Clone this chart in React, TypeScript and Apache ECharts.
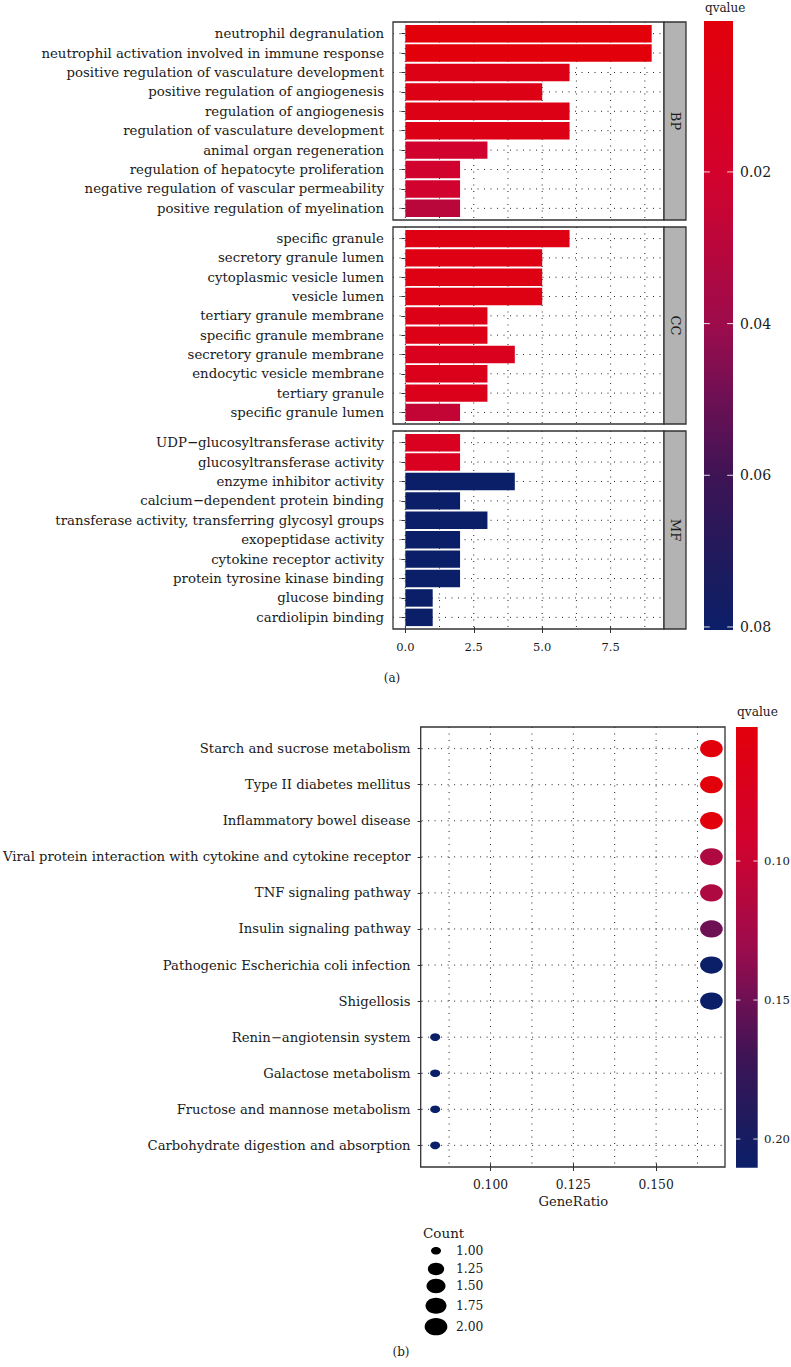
import React, { useEffect, useRef } from "react";
import * as echarts from "echarts";

const FONT = "DejaVu Serif";
const TXT = "#1a1a1a";

// ---------- (a) GO enrichment ----------
const bpTerms = [
  "neutrophil degranulation",
  "neutrophil activation involved in immune response",
  "positive regulation of vasculature development",
  "positive regulation of angiogenesis",
  "regulation of angiogenesis",
  "regulation of vasculature development",
  "animal organ regeneration",
  "regulation of hepatocyte proliferation",
  "negative regulation of vascular permeability",
  "positive regulation of myelination",
];
const bpCounts = [9, 9, 6, 5, 6, 6, 3, 2, 2, 2];
const bpQ = [0.0001, 0.0001, 0.006, 0.006, 0.006, 0.006, 0.021, 0.021, 0.021, 0.03];

const ccTerms = [
  "specific granule",
  "secretory granule lumen",
  "cytoplasmic vesicle lumen",
  "vesicle lumen",
  "tertiary granule membrane",
  "specific granule membrane",
  "secretory granule membrane",
  "endocytic vesicle membrane",
  "tertiary granule",
  "specific granule lumen",
];
const ccCounts = [6, 5, 5, 5, 3, 3, 4, 3, 3, 2];
const ccQ = [0.005, 0.005, 0.005, 0.005, 0.007, 0.007, 0.011, 0.009, 0.009, 0.026];

const mfTerms = [
  "UDP\u2212glucosyltransferase activity",
  "glucosyltransferase activity",
  "enzyme inhibitor activity",
  "calcium\u2212dependent protein binding",
  "transferase activity, transferring glycosyl groups",
  "exopeptidase activity",
  "cytokine receptor activity",
  "protein tyrosine kinase binding",
  "glucose binding",
  "cardiolipin binding",
];
const mfCounts = [2, 2, 4, 2, 3, 2, 2, 2, 1, 1];
const mfQ = [0.012, 0.012, 0.0804, 0.0804, 0.0804, 0.0804, 0.0804, 0.0804, 0.0804, 0.0804];

const ontologies = ["BP", "CC", "MF"];
const goXTicks = [0, 2.5, 5, 7.5];
const goXGrid = [0, 1.25, 2.5, 3.75, 5, 6.25, 7.5, 8.75];
const goQTicks = [0.02, 0.04, 0.06, 0.08];

// ---------- (b) KEGG enrichment ----------
const keggTerms = [
  "Starch and sucrose metabolism",
  "Type II diabetes mellitus",
  "Inflammatory bowel disease",
  "Viral protein interaction with cytokine and cytokine receptor",
  "TNF signaling pathway",
  "Insulin signaling pathway",
  "Pathogenic Escherichia coli infection",
  "Shigellosis",
  "Renin\u2212angiotensin system",
  "Galactose metabolism",
  "Fructose and mannose metabolism",
  "Carbohydrate digestion and absorption",
];
const keggRatio = [0.1667, 0.1667, 0.1667, 0.1667, 0.1667, 0.1667, 0.1667, 0.1667, 0.0833, 0.0833, 0.0833, 0.0833];
const keggCount = [2, 2, 2, 2, 2, 2, 2, 2, 1, 1, 1, 1];
const keggQ = [0.0518, 0.0518, 0.0518, 0.118, 0.118, 0.15, 0.2103, 0.2103, 0.2103, 0.2103, 0.2103, 0.2103];
const keggXTicks = [0.1, 0.125, 0.15];
const keggXGrid = [0.0875, 0.1, 0.1125, 0.125, 0.1375, 0.15, 0.1625];
const keggQTicks = [0.1, 0.15, 0.2];
const countBreaks = [1, 1.25, 1.5, 1.75, 2];

const PALETTE = ["#E2000B", "#DA011C", "#D3022D", "#B8073C", "#9C0C4C", "#6C1054", "#3D1455", "#221A5C", "#0B1F68"];

// ---------- layout ----------
const GO_LEFT = 393;
const GO_RIGHT = 664;
const STRIP_W = 22;
const GO_PANELS = [
  { top: 22, bottom: 220 },
  { top: 227, bottom: 424 },
  { top: 431, bottom: 629 },
];
const GO_CB = { x: 704, y: 21, w: 29, h: 609 };
const KG = { left: 420.7, right: 725, top: 727, bottom: 1167 };
const KG_CB = { x: 736, y: 727, w: 21.7, h: 440.7 };

function sizeFor(count: number): number[] {
  const s = Math.sqrt(Math.max(0, (count - 1) / (2 - 1)));
  return [10 + 12.7 * s, 7.6 + 9.7 * s];
}

function gridSeries(idx: number, nCats: number, xs: number[], inset: number) {
  const data: number[][] = [];
  xs.forEach((v) => data.push([v, 0, 0]));
  for (let i = 0; i < nCats; i++) data.push([xs[0], i, 1]);
  return {
    type: "custom",
    xAxisIndex: idx,
    yAxisIndex: idx,
    z: 1,
    silent: true,
    clip: false,
    encode: { x: 0, y: 1 },
    data,
    renderItem: (params: any, api: any) => {
      const cs = params.coordSys;
      const kind = api.value(2);
      const style = { stroke: "#222", lineWidth: 1, lineDash: [1, 5.5], fill: null };
      if (kind === 0) {
        const x = api.coord([api.value(0), 0])[0];
        return { type: "line", shape: { x1: x, y1: cs.y - inset, x2: x, y2: cs.y + cs.height + inset }, style };
      }
      const y = api.coord([api.value(0), api.value(1)])[1];
      return { type: "line", shape: { x1: cs.x, y1: y, x2: cs.x + cs.width, y2: y }, style };
    },
  };
}

export default function App() {
  const ref = useRef<HTMLDivElement>(null);

  useEffect(() => {
    if (!ref.current) return;
    const chart = echarts.init(ref.current, undefined, { renderer: "svg" });

    const goSets = [
      { terms: bpTerms, counts: bpCounts, q: bpQ },
      { terms: ccTerms, counts: ccCounts, q: ccQ },
      { terms: mfTerms, counts: mfCounts, q: mfQ },
    ];
    const allGoQ = [...bpQ, ...ccQ, ...mfQ];
    const goQMin = Math.min(...allGoQ);
    const goQMax = Math.max(...allGoQ);
    const kgQMin = Math.min(...keggQ);
    const kgQMax = Math.max(...keggQ);

    const grids: any[] = [];
    const xAxes: any[] = [];
    const yAxes: any[] = [];
    const gridSeriesList: any[] = [];
    const barSeries: any[] = [];

    goSets.forEach((set, i) => {
      const p = GO_PANELS[i];
      const row = (p.bottom - p.top) / (set.terms.length + 0.2);
      const inset = row * 0.1;
      grids.push({ left: GO_LEFT, top: p.top + inset, width: GO_RIGHT - GO_LEFT, height: p.bottom - p.top - 2 * inset });
      const last = i === 2;
      xAxes.push({
        type: "value",
        gridIndex: i,
        min: -0.45,
        max: 9.45,
        axisLine: { show: false },
        splitLine: { show: false },
        axisTick: { show: last, customValues: goXTicks, length: 4 + inset, lineStyle: { color: "#333", width: 1 } },
        axisLabel: {
          show: last,
          customValues: goXTicks,
          formatter: (v: number) => v.toFixed(1),
          fontFamily: FONT,
          fontSize: 11.5,
          color: TXT,
          margin: 14,
        },
      });
      yAxes.push({
        type: "category",
        gridIndex: i,
        data: set.terms,
        inverse: true,
        axisLine: { show: false },
        splitLine: { show: false },
        axisTick: { show: true, alignWithLabel: true, length: 4, lineStyle: { color: "#333", width: 1 } },
        axisLabel: { interval: 0, fontFamily: FONT, fontSize: 13.3, color: TXT, margin: 9 },
      });
      gridSeriesList.push(gridSeries(i, set.terms.length, goXGrid, inset));
      barSeries.push({
        type: "bar",
        name: ontologies[i],
        xAxisIndex: i,
        yAxisIndex: i,
        z: 2,
        barWidth: "90%",
        silent: true,
        encode: { x: 0, y: 1 },
        data: set.terms.map((t, k) => [set.counts[k], t, set.q[k]]),
      });
    });

    // KEGG grid
    const kRow = (KG.bottom - KG.top) / (keggTerms.length + 0.2);
    const kInset = kRow * 0.1;
    grids.push({ left: KG.left, top: KG.top + kInset, width: KG.right - KG.left, height: KG.bottom - KG.top - 2 * kInset });
    xAxes.push({
      type: "value",
      gridIndex: 3,
      min: 0.0792,
      max: 0.1708,
      axisLine: { show: false },
      splitLine: { show: false },
      axisTick: { show: true, customValues: keggXTicks, length: 4 + kInset, lineStyle: { color: "#333", width: 1 } },
      axisLabel: {
        customValues: keggXTicks,
        formatter: (v: number) => v.toFixed(3),
        fontFamily: FONT,
        fontSize: 12.3,
        color: TXT,
        margin: 16,
      },
      name: "GeneRatio",
      nameLocation: "middle",
      nameGap: 32,
      nameTextStyle: { fontFamily: FONT, fontSize: 13.1, color: TXT },
    });
    yAxes.push({
      type: "category",
      gridIndex: 3,
      data: keggTerms,
      inverse: true,
      axisLine: { show: false },
      splitLine: { show: false },
      axisTick: { show: true, alignWithLabel: true, length: 4, lineStyle: { color: "#333", width: 1 } },
      axisLabel: { interval: 0, fontFamily: FONT, fontSize: 13.2, color: TXT, margin: 11 },
    });
    gridSeriesList.push(gridSeries(3, keggTerms.length, keggXGrid, kInset));

    const dotSeries = {
      type: "scatter",
      xAxisIndex: 3,
      yAxisIndex: 3,
      z: 3,
      silent: true,
      symbol: "circle",
      encode: { x: 0, y: 1 },
      symbolSize: (v: number[]) => sizeFor(v[2]),
      itemStyle: { opacity: 1 },
      data: keggTerms.map((t, k) => [keggRatio[k], t, keggCount[k], keggQ[k]]),
    };

    const series = [...gridSeriesList, ...barSeries, dotSeries];

    const gradient = {
      type: "linear",
      x: 0,
      y: 0,
      x2: 0,
      y2: 1,
      colorStops: PALETTE.map((c, i) => ({ offset: i / (PALETTE.length - 1), color: c })),
    };

    const graphics: any[] = [];
    // panel borders and strips
    GO_PANELS.forEach((p, i) => {
      graphics.push({
        type: "rect",
        z: 10,
        silent: true,
        shape: { x: GO_LEFT, y: p.top, width: GO_RIGHT - GO_LEFT, height: p.bottom - p.top },
        style: { fill: "none", stroke: "#333", lineWidth: 1.3 },
      });
      graphics.push({
        type: "rect",
        z: 10,
        silent: true,
        shape: { x: GO_RIGHT, y: p.top, width: STRIP_W, height: p.bottom - p.top },
        style: { fill: "#B3B3B3", stroke: "#333", lineWidth: 1.3 },
      });
      graphics.push({
        type: "text",
        z: 11,
        silent: true,
        x: GO_RIGHT + STRIP_W / 2,
        y: (p.top + p.bottom) / 2,
        rotation: -Math.PI / 2,
        style: { text: ontologies[i], fontFamily: FONT, fontSize: 13, fill: TXT, align: "center", verticalAlign: "middle" },
      });
    });
    graphics.push({
      type: "rect",
      z: 10,
      silent: true,
      shape: { x: KG.left, y: KG.top, width: KG.right - KG.left, height: KG.bottom - KG.top },
      style: { fill: "none", stroke: "#333", lineWidth: 1.3 },
    });

    // colorbars
    const addColorbar = (cb: any, qMin: number, qMax: number, ticks: number[], fmt: (v: number) => string, fontSize: number, labelX: number, titleX: number, titleY: number, titleSize: number) => {
      graphics.push({ type: "rect", z: 10, silent: true, shape: { x: cb.x, y: cb.y, width: cb.w, height: cb.h }, style: { fill: gradient } });
      ticks.forEach((t) => {
        const y = cb.y + ((t - qMin) / (qMax - qMin)) * cb.h;
        const tl = cb.w / 5;
        graphics.push({ type: "line", z: 11, silent: true, shape: { x1: cb.x, y1: y, x2: cb.x + tl, y2: y }, style: { stroke: "rgba(255,255,255,0.85)", lineWidth: 1 } });
        graphics.push({ type: "line", z: 11, silent: true, shape: { x1: cb.x + cb.w - tl, y1: y, x2: cb.x + cb.w, y2: y }, style: { stroke: "rgba(255,255,255,0.85)", lineWidth: 1 } });
        graphics.push({ type: "text", z: 11, silent: true, x: labelX, y, style: { text: fmt(t), fontFamily: FONT, fontSize, fill: TXT, align: "left", verticalAlign: "middle" } });
      });
      graphics.push({ type: "text", z: 11, silent: true, x: titleX, y: titleY, style: { text: "qvalue", fontFamily: FONT, fontSize: titleSize, fill: TXT, align: "left", verticalAlign: "middle" } });
    };
    addColorbar(GO_CB, goQMin, goQMax, goQTicks, (v) => v.toFixed(2), 14, 740, 705, 8, 12);
    addColorbar(KG_CB, kgQMin, kgQMax, keggQTicks, (v) => v.toFixed(2), 11.7, 764, 737, 712, 12.2);

    // size legend
    graphics.push({ type: "text", z: 11, silent: true, x: 423, y: 1233, style: { text: "Count", fontFamily: FONT, fontSize: 13.5, fill: TXT, align: "left", verticalAlign: "middle" } });
    const legendY = [1250.7, 1269, 1286, 1305.7, 1326.7];
    countBreaks.forEach((c, i) => {
      const [w, h] = sizeFor(c);
      graphics.push({ type: "ellipse", z: 11, silent: true, shape: { cx: 436, cy: legendY[i], rx: w / 2, ry: h / 2 }, style: { fill: "#000" } });
      graphics.push({ type: "text", z: 11, silent: true, x: 456, y: legendY[i], style: { text: c.toFixed(2), fontFamily: FONT, fontSize: 12.3, fill: TXT, align: "left", verticalAlign: "middle" } });
    });

    // panel tags
    graphics.push({ type: "text", z: 11, silent: true, x: 392, y: 678, style: { text: "(a)", fontFamily: FONT, fontSize: 12, fill: TXT, align: "center", verticalAlign: "middle" } });
    graphics.push({ type: "text", z: 11, silent: true, x: 401, y: 1352, style: { text: "(b)", fontFamily: FONT, fontSize: 12, fill: TXT, align: "center", verticalAlign: "middle" } });

    chart.setOption({
      animation: false,
      backgroundColor: "#ffffff",
      textStyle: { fontFamily: FONT },
      grid: grids,
      xAxis: xAxes,
      yAxis: yAxes,
      visualMap: [
        {
          type: "continuous",
          show: false,
          seriesIndex: [4, 5, 6],
          dimension: 2,
          min: goQMin,
          max: goQMax,
          inRange: { color: PALETTE },
        },
        {
          type: "continuous",
          show: false,
          seriesIndex: [7],
          dimension: 3,
          min: kgQMin,
          max: kgQMax,
          inRange: { color: PALETTE },
        },
      ],
      series,
      graphic: { elements: graphics },
    });

    return () => chart.dispose();
  }, []);

  return <div ref={ref} style={{ position: "absolute", left: 0, top: 0, width: 791, height: 1367, background: "#fff" }} />;
}
